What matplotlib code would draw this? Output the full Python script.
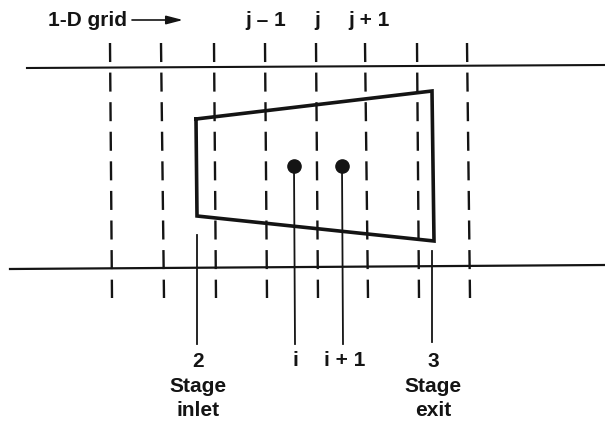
import matplotlib
matplotlib.use("Agg")
import matplotlib.pyplot as plt

plt.rcParams['font.family'] = ['Liberation Sans', 'DejaVu Sans']
plt.rcParams['lines.scale_dashes'] = False

# Diagram coordinates (pixel-like units, y down)
grid_x_top = [110, 161, 214, 265, 316, 365, 417, 467]
grid_x_bottom = [112, 164, 216, 267, 318, 368, 419, 470]
grid_y = [43, 298]
wall_top_x = [27, 605]
wall_top_y = [68, 65]
wall_bottom_x = [10, 605]
wall_bottom_y = [269, 265]
blade_x = [196, 432, 434, 197, 196]
blade_y = [119, 91, 241, 216, 119]
station_x = [294, 342]
station_y = [166, 166]
station_end = [344, 344]
stage_x = [197, 432]
stage_start = [235, 251]
stage_end = [344, 342]
top_labels = ["j – 1", "j", "j + 1"]
top_label_x = [266, 317, 369]
bottom_labels = ["i", "i + 1"]
bottom_label_x = [295, 345]
stage_labels = ["2\nStage\ninlet", "3\nStage\nexit"]
stage_label_x = [198, 433]

fig = plt.figure(figsize=(6.05, 4.24), dpi=100)
ax = fig.add_axes([0, 0, 1, 1])
ax.set_xlim(0, 605)
ax.set_ylim(424, 0)
ax.axis('off')
ink = '#141414'

for xa, xb in zip(grid_x_top, grid_x_bottom):
    ax.plot([xa, xb], grid_y, color=ink, lw=1.7,
            linestyle=(0, (13.7, 7.6)), dash_capstyle='butt')
ax.plot(wall_top_x, wall_top_y, color=ink, lw=1.5)
ax.plot(wall_bottom_x, wall_bottom_y, color=ink, lw=1.6)
ax.plot(blade_x, blade_y, color=ink, lw=2.6, solid_joinstyle='miter')
for x, y, e in zip(station_x, station_y, station_end):
    ax.plot([x, x + 1], [y, e], color=ink, lw=1.3)
ax.plot(station_x, station_y, 'o', color=ink, ms=9.5, ls='none')
for x, s, e in zip(stage_x, stage_start, stage_end):
    ax.plot([x, x], [s, e], color=ink, lw=1.3)

font = dict(fontsize=15, fontweight='bold', color=ink, ha='center', va='center')
ax.text(87, 20, "1-D grid", **font)
ax.annotate("", xy=(183, 20), xytext=(132, 20),
            arrowprops=dict(arrowstyle='-|>,head_length=1.0,head_width=0.26',
                            color=ink, lw=1.2, shrinkA=0, shrinkB=0))
for label, x in zip(top_labels, top_label_x):
    ax.text(x, 20, label, **font)
for label, x in zip(bottom_labels, bottom_label_x):
    ax.text(x, 361, label, **font)
for label, x in zip(stage_labels, stage_label_x):
    ax.text(x, 386, label, linespacing=1.36, **font)

fig.savefig("out.png", dpi=100)
